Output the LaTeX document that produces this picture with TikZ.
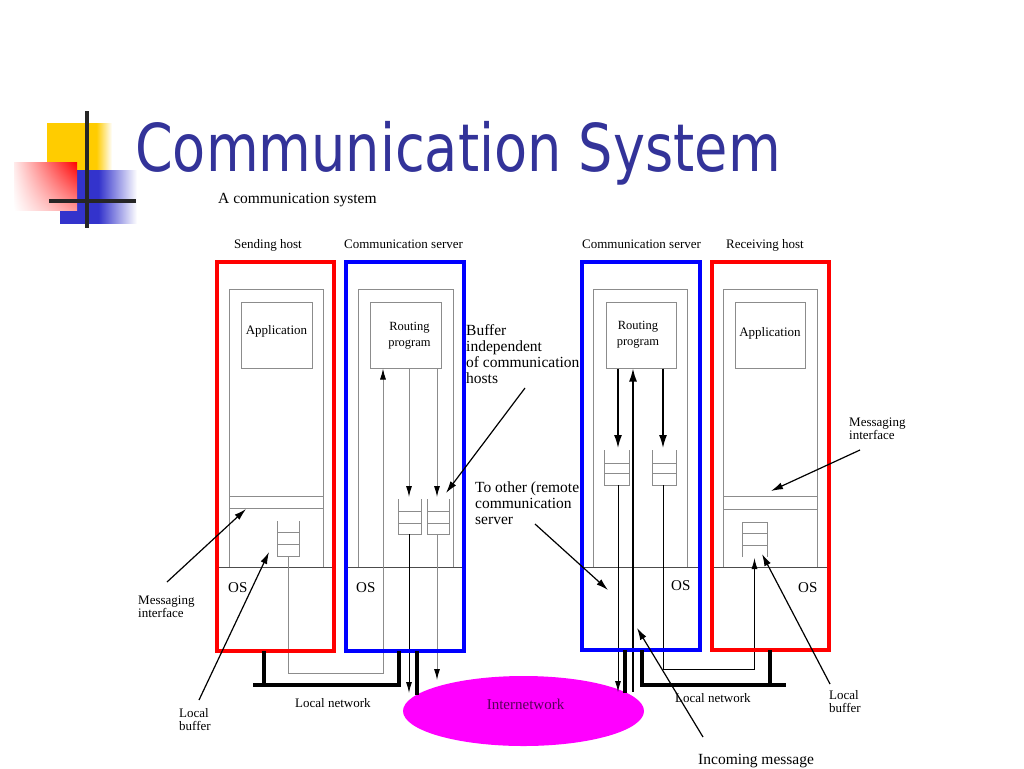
\documentclass[tikz,border=0pt]{standalone}
\usepackage{graphicx}
\usepackage{fontspec}
\setmainfont{Liberation Serif}
\newfontfamily\titlefont{DejaVu Sans}
\usetikzlibrary{arrows.meta,shapes.geometric,shadings}
\definecolor{ttl}{RGB}{51,51,153}
\definecolor{ycol}{RGB}{255,204,0}
\definecolor{bcol}{RGB}{51,51,204}
\definecolor{gline}{RGB}{140,140,140}
\definecolor{inettext}{RGB}{90,0,90}
\definecolor{mag}{RGB}{255,0,255}
\pgfdeclarehorizontalshading{yfade}{100bp}{color(0bp)=(ycol); color(63bp)=(ycol); color(75bp)=(white); color(100bp)=(white)}
\pgfdeclarehorizontalshading{bfade}{100bp}{color(0bp)=(bcol); color(50bp)=(bcol); color(75bp)=(white); color(100bp)=(white)}
\begin{document}
\begin{tikzpicture}[x=1pt,y=-1pt,
  outerred/.style={draw=red,line width=4pt,inner sep=0,outer sep=0,anchor=north west},
  outerblue/.style={draw=blue,line width=4pt,inner sep=0,outer sep=0,anchor=north west},
  graybox/.style={draw=gline,line width=1pt,inner sep=0,outer sep=0,anchor=north west},
  osline/.style={draw=black!70,line width=0.8pt},
  gwire/.style={draw=gline,line width=1pt},
  bwire/.style={draw=black,line width=0.9pt},
  bthick/.style={draw=black,line width=1.6pt},
  tipg/.style={-{Latex[length=11pt,width=6pt,color=black]}},
  tipb/.style={-{Latex[length=13pt,width=8pt]}},
  net/.style={draw=black,line width=4.5pt},
  ann/.style={draw=black,line width=1.2pt,-{Latex[length=12pt,width=7pt]}},
  lbl/.style={inner sep=0,font=\fontsize{13}{13}\selectfont},
  small/.style={inner sep=0,font=\fontsize{13}{13}\selectfont,align=left,anchor=north west},
  big/.style={inner sep=0,font=\fontsize{15.5}{15.8}\selectfont,align=left,anchor=north west},
  bufline/.style={draw=gline,line width=1pt}]
\fill[white] (0,0) rectangle (1024,768);
\useasboundingbox (0,0) rectangle (1024,768);

% ---- decoration
\shade[shading=yfade] (47,123) rectangle (112,190);
\shade[shading=bfade] (60,170) rectangle (137,223);
\shade[upper right=red, upper left=red!8!white, lower right=red!40!white, lower left=white] (14,162) rectangle (77,210);
\draw[line width=4pt, black!85] (87,111) -- (87,228);
\draw[line width=4pt, black!85] (49,201) -- (136,201);

% ---- title
\node[anchor=base west, inner sep=0, text=ttl] (title) at (135,171)
  {\scalebox{0.82}[1]{\titlefont\fontsize{66}{70}\selectfont Communication System}};
\node[anchor=base west, inner sep=0, font=\fontsize{15.5}{16}\selectfont] (sub) at (218,203) {A communication system};

% ---- headers
\node[lbl, anchor=base west] (hsh) at (234,248) {Sending host};
\node[lbl, anchor=base west] (hs1) at (344,248) {Communication server};
\node[lbl, anchor=base west] (hs2) at (582,248) {Communication server};
\node[lbl, anchor=base west] (hrh) at (726,248) {Receiving host};

% ---- internetwork
\node[ellipse, fill=mag, minimum width=241pt, minimum height=70pt, inner sep=0, outer sep=0] (inet) at (523.5,711) {};
\node[inner sep=0, font=\fontsize{15}{15}\selectfont, text=inettext] (inetlbl) at (525.5,704) {Internetwork};

% ---- free texts (under the boxes)
\node[big] (bufind) at (466,324.5) {Buffer\\independent\\of communication\\hosts};
\node[big] (toother) at (475,481.5) {To other (remote\\communication\\server};

% ---- inner boxes
\node[graybox, minimum width=94pt, minimum height=278pt] (shin) at (229,289) {};
\node[graybox, minimum width=95pt, minimum height=278pt] (s1in) at (358,289) {};
\node[graybox, minimum width=94pt, minimum height=278pt] (s2in) at (593,289) {};
\node[graybox, minimum width=94pt, minimum height=278pt] (rhin) at (723,289) {};

\node[graybox, minimum width=71pt, minimum height=66pt] (app1) at (241,302) {};
\node[lbl] (app1t) at (276.5,331) {Application};
\node[graybox, minimum width=70pt, minimum height=66pt] (app2) at (735,302) {};
\node[lbl] (app2t) at (770,333) {Application};
\node[graybox, minimum width=71pt, minimum height=66pt] (rp1) at (370,302) {};
\node[lbl, align=center, font=\fontsize{12.5}{16}\selectfont] (rp1t) at (409.5,336) {Routing\\program};
\node[graybox, minimum width=70pt, minimum height=66pt] (rp2) at (606,302) {};
\node[lbl, align=center, font=\fontsize{12.5}{16}\selectfont] (rp2t) at (638,335) {Routing\\program};

% messaging interface bands
\draw[gline, line width=1pt] (shin.west |- 0,496) coordinate (mi1a) -- (shin.east |- 0,496);
\draw[gline, line width=1pt] (shin.west |- 0,508) -- (shin.east |- 0,508) coordinate (mi1b);
\draw[gline, line width=1pt] (rhin.west |- 0,496) -- (rhin.east |- 0,496);
\draw[gline, line width=1pt] (rhin.west |- 0,509) -- (rhin.east |- 0,509);

% OS lines
\draw[osline] (217,567) -- (334,567);
\draw[osline] (346,567) -- (464,567);
\draw[osline] (582,567) -- (700,567);
\draw[osline] (712,567) -- (829,567);
\node[inner sep=0, anchor=base west, font=\fontsize{15}{15}\selectfont] (os1) at (228,592) {OS};
\node[inner sep=0, anchor=base west, font=\fontsize{15}{15}\selectfont] (os2) at (356,592) {OS};
\node[inner sep=0, anchor=base west, font=\fontsize{15}{15}\selectfont] (os3) at (671,590) {OS};
\node[inner sep=0, anchor=base west, font=\fontsize{15}{15}\selectfont] (os4) at (798,592) {OS};

% ---- buffers
% sending host local buffer (open top)
\draw[bufline] (277,521) -- (277,556) -- (299,556) -- (299,521);
\draw[bufline] (277,532) -- (299,532) (277,544) -- (299,544);
\coordinate (shbuf) at (288,556);
% server 1 buffers
\draw[bufline] (398,499) -- (398,534) -- (421,534) -- (421,499);
\draw[bufline] (398,511) -- (421,511) (398,523) -- (421,523);
\draw[bufline] (427,499) -- (427,534) -- (449,534) -- (449,499);
\draw[bufline] (427,511) -- (449,511) (427,523) -- (449,523);
\coordinate (b1a) at (409,534);
\coordinate (b1b) at (437,534);
% server 2 buffers
\draw[bufline] (604,450) -- (604,485) -- (629,485) -- (629,450);
\draw[bufline] (604,463) -- (629,463) (604,473) -- (629,473);
\draw[bufline] (652,450) -- (652,485) -- (676,485) -- (676,450);
\draw[bufline] (652,463) -- (676,463) (652,473) -- (676,473);
\coordinate (b2a) at (618,485);
\coordinate (b2b) at (663,485);
% receiving host local buffer
\draw[bufline] (742,557) -- (742,522) -- (767,522) -- (767,557);
\draw[bufline] (742,533) -- (767,533) (742,545) -- (767,545);
\coordinate (rhbuf) at (754.5,558);

% ---- wires server 1 / sending host
\draw[gwire, tipg] (shbuf) -- (288,673) -- (383,673) -- (383,368.5);
\draw[gwire, tipg] (409,368.5) -- (409,497);
\draw[gwire, tipg] (437,368.5) -- (437,497);
\draw[bwire, tipg] (b1a) -- (409,693);
\draw[gwire, tipg] (b1b) -- (437,680);

% ---- wires server 2 / receiving host
\draw[bthick, tipb] (618,368.5) -- (618,448);
\draw[bthick, tipb] (663,368.5) -- (663,448);
\draw[bthick, tipb] (633,692) -- (633,368.5);
\draw[bwire, tipg] (b2a) -- (618,692);
\draw[bwire, tipg] (b2b) -- (663,669) -- (754.5,669) -- (rhbuf);

% ---- outer boxes
\node[outerred, minimum width=117pt, minimum height=389pt] (sh) at (217,262) {};
\node[outerblue, minimum width=118pt, minimum height=389pt] (s1) at (346,262) {};
\node[outerblue, minimum width=118pt, minimum height=388pt] (s2) at (582,262) {};
\node[outerred, minimum width=117pt, minimum height=388pt] (rh) at (712,262) {};

% ---- networks
\draw[net] (253,685) -- (401,685);
\draw[net] (264,651) -- (264,685);
\draw[net] (399,651) -- (399,685);
\draw[net] (417,651) -- (417,695);
\draw[net] (640,685) -- (786,685);
\draw[net] (642,650) -- (642,685);
\draw[net] (770,650) -- (770,685);
\draw[net] (625,650) -- (625,693);

\node[lbl, anchor=base west] (ln1) at (295,707) {Local network};
\node[lbl, anchor=base west] (ln2) at (675,702) {Local network};

% ---- annotations
\node[small] (mil) at (138,596) {Messaging\\interface};
\node[small] (lbl1) at (179,708) {Local\\buffer};
\node[small] (mir) at (849,418) {Messaging\\interface};
\node[small] (lbr) at (829,690) {Local\\buffer};
\node[inner sep=0, anchor=base west, font=\fontsize{15.5}{16}\selectfont] (inc) at (698,764) {Incoming message};

\draw[ann] (525,388) -- (446,493);
\draw[ann] (535,524) -- (608,590);
\draw[ann] (860,450) -- (771,491);
\draw[ann] (830,684) -- (762,554);
\draw[ann] (703,737) -- (637,628);
\draw[ann] (167,582) -- (246,509);
\draw[ann] (199,700) -- (269,552);
\end{tikzpicture}
\end{document}
